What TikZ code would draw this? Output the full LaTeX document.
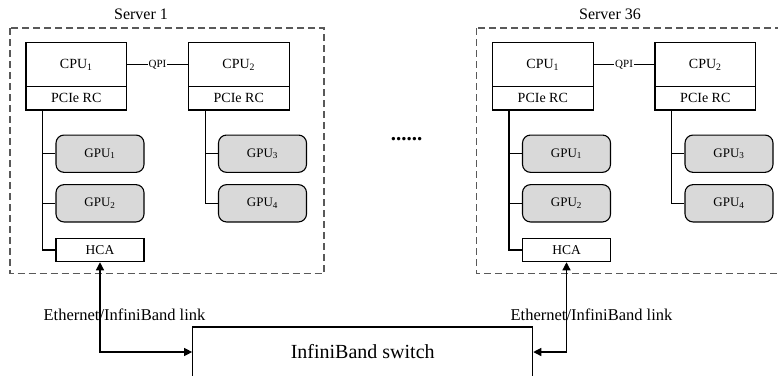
\documentclass[tikz,border=0pt]{standalone}
\usepackage{fontspec}
\setmainfont{Liberation Serif}
\usetikzlibrary{positioning,arrows.meta}
\newcommand{\fsz}[1]{\fontsize{#1}{#1}\selectfont}
\definecolor{gpugray}{gray}{0.85}
\definecolor{dashgray}{gray}{0.35}
\tikzset{
  unit/.style={draw,line width=1.1pt,minimum width=100.7pt,inner sep=0pt,outer sep=0pt,font=\fsz{14}},
  gpu/.style={draw,line width=1.1pt,rounded corners=8pt,fill=gpugray,minimum width=88pt,minimum height=37.3pt,inner sep=0pt,font=\fsz{13}},
  hca/.style={draw,line width=1.1pt,minimum width=88pt,minimum height=23.4pt,inner sep=0pt,font=\fsz{13.5}},
  serverbox/.style={draw=dashgray,dash pattern=on 7pt off 4pt,line width=1.2pt},
  bus/.style={line width=1.1pt},
  link/.style={line width=1.2pt,{Triangle[length=8pt,width=8pt]}-{Triangle[length=8pt,width=8pt]}},
}
\begin{document}
\begin{tikzpicture}[x=1pt,y=-1pt]
\useasboundingbox (0,0) rectangle (778,375);
\clip (0,0) rectangle (778,375);
% the two servers
\foreach \s/\dx/\tx/\title in {a/0/141/Server 1, b/466.5/143.5/Server 36}{
  \begin{scope}[xshift=\dx pt]
    \draw[serverbox] (10,28) rectangle (324,273.5);
    \node[font=\fsz{16}] (title\s) at (\tx,14) {\title};
    \node[unit,minimum height=44.4pt] (cpua\s) at (76.3,64.5) {CPU\textsubscript{1}};
    \node[unit,minimum height=23.3pt,below=0pt of cpua\s] (rca\s) {PCIe RC};
    \node[unit,minimum height=44.4pt] (cpub\s) at (238.8,64.5) {CPU\textsubscript{2}};
    \node[unit,minimum height=23.3pt,below=0pt of cpub\s] (rcb\s) {PCIe RC};
    \draw[bus] (cpua\s) -- node[fill=white,inner sep=1pt,font=\fsz{11}] {QPI} (cpub\s);
    \node[gpu] (gpua\s) at (100,153.7) {GPU\textsubscript{1}};
    \node[gpu] (gpub\s) at (100,203.3) {GPU\textsubscript{2}};
    \node[hca] (hca\s) at (100,250) {HCA};
    \node[gpu] (gpuc\s) at (262.5,153.7) {GPU\textsubscript{3}};
    \node[gpu] (gpud\s) at (262.5,203.3) {GPU\textsubscript{4}};
    % PCIe buses
    \draw[bus] (rca\s.south west) ++(16.5,0) coordinate (busa\s) |- (hca\s.west);
    \draw[bus] (busa\s |- gpua\s.west) -- (gpua\s.west);
    \draw[bus] (busa\s |- gpub\s.west) -- (gpub\s.west);
    \draw[bus] (rcb\s.south west) ++(16.7,0) coordinate (busb\s) |- (gpud\s.west);
    \draw[bus] (busb\s |- gpuc\s.west) -- (gpuc\s.west);
  \end{scope}
}
\node[font=\fsz{21}\bfseries] (dots) at (406.5,139) {......};
\node[draw,line width=1.1pt,minimum width=340pt,minimum height=50pt,font=\fsz{20}] (switch) at (362.7,352) {InfiniBand switch};
\draw[link] (hcaa.south) |- (switch.west);
\draw[link] (hcab.south) |- (switch.east);
\node[font=\fsz{16.5}] (linka) at (124.5,315) {Ethernet/InfiniBand link};
\node[font=\fsz{16.5}] (linkb) at (591.5,315) {Ethernet/InfiniBand link};
\end{tikzpicture}
\end{document}
